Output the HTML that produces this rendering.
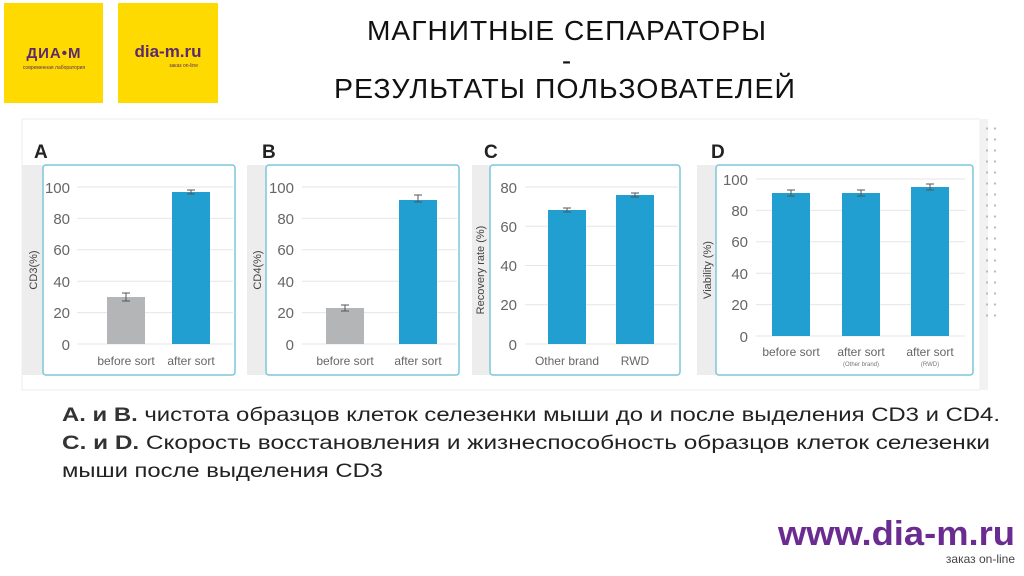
<!DOCTYPE html>
<html><head><meta charset="utf-8"><style>
html,body{margin:0;padding:0;background:#fff;width:1024px;height:576px;overflow:hidden;font-family:"Liberation Sans",sans-serif}
</style></head><body>
<svg width="1024" height="576" viewBox="0 0 1024 576" xmlns="http://www.w3.org/2000/svg" font-family="Liberation Sans, sans-serif">
<rect x="4" y="3" width="99" height="100" fill="#FFDA00"/>
<rect x="118" y="3" width="100" height="100" fill="#FFDA00"/>
<text x="54" y="58" text-anchor="middle" font-size="15" font-weight="bold" fill="#5b2a6e" letter-spacing="1">ДИА•М</text>
<text x="54" y="69" text-anchor="middle" font-size="5" fill="#5b2a6e">современная лаборатория</text>
<text x="168" y="57" text-anchor="middle" font-size="17" font-weight="bold" fill="#5b2a6e">dia-m.ru</text>
<text x="198" y="67" text-anchor="end" font-size="5" fill="#5b2a6e">заказ on-line</text>
<g font-size="28" fill="#111" text-anchor="middle" letter-spacing="1">
<text x="567" y="40" textLength="400" lengthAdjust="spacingAndGlyphs">МАГНИТНЫЕ СЕПАРАТОРЫ</text>
<text x="567" y="70">-</text>
<text x="565" y="98" textLength="462" lengthAdjust="spacingAndGlyphs">РЕЗУЛЬТАТЫ ПОЛЬЗОВАТЕЛЕЙ</text>
</g>
<rect x="22" y="119" width="958" height="271" fill="#fff" stroke="#eee"/>
<rect x="980" y="119" width="8" height="271" fill="#f2f2f2"/>
<g font-size="19" font-weight="bold" fill="#222">
<text x="34" y="158">A</text><text x="262" y="158">B</text><text x="484" y="158">C</text><text x="711" y="158">D</text>
</g>
<rect x="22" y="165" width="21" height="210" fill="#ededed"/>
<rect x="247" y="165" width="19" height="210" fill="#ededed"/>
<rect x="472" y="165" width="18" height="210" fill="#ededed"/>
<rect x="697" y="165" width="19" height="210" fill="#ededed"/>
<g fill="#fff" stroke="#7cc6dc" stroke-width="1.5">
<rect x="43" y="165" width="192" height="210" rx="3"/>
<rect x="266" y="165" width="193" height="210" rx="3"/>
<rect x="490" y="165" width="190" height="210" rx="3"/>
<rect x="716" y="165" width="257" height="210" rx="3"/>
</g>
<g stroke="#e6e6e6" stroke-width="1">
<path d="M77 187H233M77 218.4H233M77 249.8H233M77 281.2H233M77 312.6H233M77 344H233"/>
<path d="M302 187H457M302 218.4H457M302 249.8H457M302 281.2H457M302 312.6H457M302 344H457"/>
<path d="M525 187H678M525 226.25H678M525 265.5H678M525 304.75H678M525 344H678"/>
<path d="M756 179H965M756 210.4H965M756 241.8H965M756 273.2H965M756 304.6H965M756 336H965"/>
</g>
<g font-size="15" fill="#666" text-anchor="end">
<text x="70" y="193">100</text><text x="70" y="224">80</text><text x="70" y="255">60</text><text x="70" y="287">40</text><text x="70" y="318">20</text><text x="70" y="350">0</text>
<text x="294" y="193">100</text><text x="294" y="224">80</text><text x="294" y="255">60</text><text x="294" y="287">40</text><text x="294" y="318">20</text><text x="294" y="350">0</text>
<text x="517" y="193">80</text><text x="517" y="232">60</text><text x="517" y="271">40</text><text x="517" y="310">20</text><text x="517" y="350">0</text>
<text x="748" y="185">100</text><text x="748" y="216">80</text><text x="748" y="247">60</text><text x="748" y="279">40</text><text x="748" y="310">20</text><text x="748" y="342">0</text>
</g>
<g font-size="11" fill="#444" text-anchor="middle">
<text transform="translate(37 270) rotate(-90)">CD3(%)</text>
<text transform="translate(261 270) rotate(-90)">CD4(%)</text>
<text transform="translate(484 270) rotate(-90)">Recovery rate (%)</text>
<text transform="translate(711 270) rotate(-90)">Viability (%)</text>
</g>
<rect x="107" y="297" width="38" height="47" fill="#b4b5b7"/>
<rect x="172" y="192" width="38" height="152" fill="#209fd0"/>
<rect x="326" y="308" width="38" height="36" fill="#b4b5b7"/>
<rect x="399" y="200" width="38" height="144" fill="#209fd0"/>
<rect x="548" y="210" width="38" height="134" fill="#209fd0"/>
<rect x="616" y="195" width="38" height="149" fill="#209fd0"/>
<rect x="772" y="193" width="38" height="143" fill="#209fd0"/>
<rect x="842" y="193" width="38" height="143" fill="#209fd0"/>
<rect x="911" y="187" width="38" height="149" fill="#209fd0"/>
<g stroke="#555" stroke-width="1" fill="none">
<path d="M126 293V301M122 293H130M122 301H130"/>
<path d="M191 190V194M187 190H195M187 194H195"/>
<path d="M345 305V311M341 305H349M341 311H349"/>
<path d="M418 195V202M414 195H422M414 202H422"/>
<path d="M567 208V212M563 208H571M563 212H571"/>
<path d="M635 193V197M631 193H639M631 197H639"/>
<path d="M791 190V196M787 190H795M787 196H795"/>
<path d="M861 190V196M857 190H865M857 196H865"/>
<path d="M930 184V190M926 184H934M926 190H934"/>
</g>
<g font-size="12" fill="#666" text-anchor="middle">
<text x="126" y="365">before sort</text><text x="191" y="365">after sort</text>
<text x="345" y="365">before sort</text><text x="418" y="365">after sort</text>
<text x="567" y="365">Other brand</text><text x="635" y="365">RWD</text>
<text x="791" y="356">before sort</text><text x="861" y="356">after sort</text><text x="930" y="356">after sort</text>
</g>
<g font-size="6" fill="#777" text-anchor="middle">
<text x="861" y="366">(Other brand)</text><text x="930" y="366">(RWD)</text>
</g>
<g font-size="19" fill="#222">
<text x="62" y="421" textLength="938" lengthAdjust="spacingAndGlyphs"><tspan font-weight="bold" fill="#333">A. и B.</tspan> чистота образцов клеток селезенки мыши до и после выделения CD3 и CD4.</text>
<text x="62" y="449" textLength="928" lengthAdjust="spacingAndGlyphs"><tspan font-weight="bold" fill="#333">C. и D.</tspan> Скорость восстановления и жизнеспособность образцов клеток селезенки</text>
<text x="62" y="477" textLength="321" lengthAdjust="spacingAndGlyphs">мыши после выделения CD3</text>
</g>
<text x="1015" y="545" text-anchor="end" font-size="34" font-weight="bold" fill="#6a2c91" textLength="237" lengthAdjust="spacingAndGlyphs">www.dia-m.ru</text>
<text x="1015" y="563" text-anchor="end" font-size="12" fill="#444">заказ on-line</text>
</svg>
<div style="position:absolute;left:983px;top:123px;width:18px;height:200px;background-image:radial-gradient(circle,#bbb 1px,transparent 1.3px);background-size:8px 11px"></div>
</body></html>
